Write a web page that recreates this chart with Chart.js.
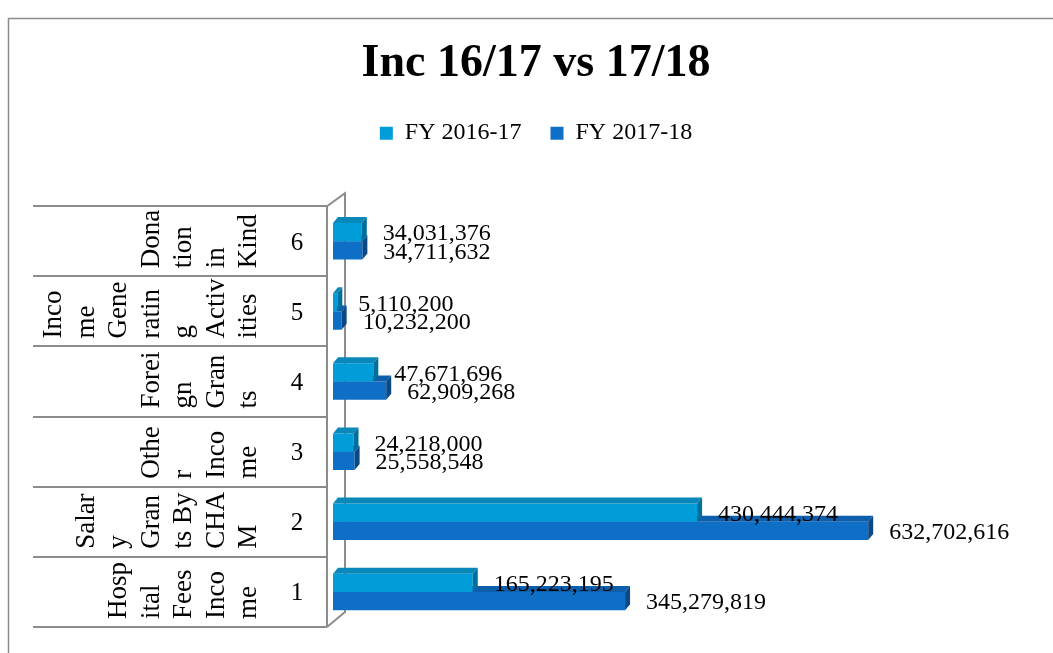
<!DOCTYPE html>
<html>
<head>
<meta charset="utf-8">
<script src="https://cdn.jsdelivr.net/npm/chart.js@4.4.0/dist/chart.umd.min.js"></script>
<style>
  html, body { margin: 0; padding: 0; background: #fff; }
</style>
</head>
<body>
<canvas id="myChart" width="1053" height="653"></canvas>
<script>
// categories, bottom row first
var categories = ['1', '2', '3', '4', '5', '6'];
// category names as Excel wrapped them in the table
var categoryLines = [
  ['Hosp', 'ital', 'Fees', 'Inco', 'me'],
  ['Salar', 'y', 'Gran', 'ts By', 'CHA', 'M'],
  ['Othe', 'r', 'Inco', 'me'],
  ['Forei', 'gn', 'Gran', 'ts'],
  ['Inco', 'me', 'Gene', 'ratin', 'g', 'Activ', 'ities'],
  ['Dona', 'tion', 'in', 'Kind']
];
var seriesNames = ['FY 2016-17', 'FY 2017-18'];
var fy1617 = [165223195, 430444374, 24218000, 47671696, 5110200, 34031376];
var fy1718 = [345279819, 632702616, 25558548, 62909268, 10232200, 34711632];

var serif = "'Liberation Serif', 'DejaVu Serif', serif";
var faces = [
  { top: '#0a88ba', side: '#00709b' },
  { top: '#0d5eab', side: '#0a4986' }
];
var dx = 5, dy = 6;

// extra room under the legend
var legendGap = {
  id: 'legendGap',
  beforeInit: function (chart) {
    var fit = chart.legend.fit;
    chart.legend.fit = function () {
      fit.bind(chart.legend)();
      this.height += 51;
    };
  }
};

// outer frame, left table and the 3d wall
var tablePlugin = {
  id: 'tablePlugin',
  beforeDatasetsDraw: function (chart) {
    var ctx = chart.ctx;
    var y = chart.scales.y;
    var area = chart.chartArea;
    var rowH = Math.abs(y.getPixelForValue(1) - y.getPixelForValue(0));
    var axisX = area.left - 6;
    var backX = area.left + 12;

    ctx.save();
    ctx.strokeStyle = '#8c8c8c';
    ctx.lineWidth = 1.5;
    ctx.strokeRect(8.5, 18.5, 1100, 700);

    ctx.lineWidth = 2;
    ctx.beginPath();
    for (var i = 0; i <= categories.length; i++) {
      var ly = Math.round(area.top + i * rowH);
      ctx.moveTo(33, ly);
      ctx.lineTo(axisX, ly);
    }
    ctx.moveTo(axisX, area.top);
    ctx.lineTo(axisX, area.bottom);
    ctx.moveTo(axisX, area.top);
    ctx.lineTo(backX, area.top - 13);
    ctx.lineTo(backX, area.bottom - 15);
    ctx.lineTo(axisX, area.bottom);
    ctx.stroke();

    ctx.fillStyle = '#000';
    ctx.textBaseline = 'middle';
    categories.forEach(function (cat, i) {
      var cy = y.getPixelForValue(i);
      ctx.textAlign = 'center';
      ctx.font = '25px ' + serif;
      ctx.fillText(cat, 297, cy + 2);

      var lines = categoryLines[i];
      var bottom = cy + rowH / 2 - 8;
      ctx.font = '27px ' + serif;
      ctx.textAlign = 'left';
      lines.forEach(function (txt, k) {
        var lx = 249 - (lines.length - 1 - k) * 32.5;
        ctx.save();
        ctx.translate(lx, bottom);
        ctx.rotate(-Math.PI / 2);
        ctx.fillText(txt, 0, 0);
        ctx.restore();
      });
    });
    ctx.restore();
  },
  // top and side faces of each bar
  afterDatasetDraw: function (chart, args) {
    var ctx = chart.ctx;
    var c = faces[args.index];
    ctx.save();
    args.meta.data.forEach(function (bar) {
      var p = bar.getProps(['x', 'y', 'base', 'height'], true);
      var top = p.y - p.height / 2;
      var bottom = p.y + p.height / 2;
      ctx.fillStyle = c.top;
      ctx.beginPath();
      ctx.moveTo(p.base, top);
      ctx.lineTo(p.x, top);
      ctx.lineTo(p.x + dx, top - dy);
      ctx.lineTo(p.base + dx, top - dy);
      ctx.closePath();
      ctx.fill();
      ctx.fillStyle = c.side;
      ctx.beginPath();
      ctx.moveTo(p.x, top);
      ctx.lineTo(p.x + dx, top - dy);
      ctx.lineTo(p.x + dx, bottom - dy);
      ctx.lineTo(p.x, bottom);
      ctx.closePath();
      ctx.fill();
    });
    ctx.restore();
  },
  afterDraw: function (chart) {
    var ctx = chart.ctx;
    ctx.save();
    ctx.fillStyle = '#000';
    ctx.font = '24px ' + serif;
    ctx.textAlign = 'left';
    ctx.textBaseline = 'middle';
    chart.data.datasets.forEach(function (ds, i) {
      chart.getDatasetMeta(i).data.forEach(function (bar, j) {
        ctx.fillText(ds.data[j].toLocaleString('en-US'), bar.x + 21, bar.y + 2);
      });
    });
    ctx.restore();
  }
};

var ctx = document.getElementById('myChart').getContext('2d');
var myChart = new Chart(ctx, {
  type: 'bar',
  data: {
    labels: categories,
    datasets: [{
      label: seriesNames[0],
      data: fy1617,
      backgroundColor: '#009DD9',
      categoryPercentage: 0.52,
      barPercentage: 1
    }, {
      label: seriesNames[1],
      data: fy1718,
      backgroundColor: '#0F6FC6',
      categoryPercentage: 0.52,
      barPercentage: 1
    }]
  },
  plugins: [legendGap, tablePlugin],
  options: {
    indexAxis: 'y',
    responsive: false,
    animation: false,
    layout: { padding: { top: 20, left: 20, right: 1, bottom: 26 } },
    plugins: {
      title: {
        display: true,
        text: 'Inc 16/17 vs 17/18',
        color: '#000',
        font: { family: serif, size: 46, weight: 'bold' },
        padding: { top: 17, bottom: 0 }
      },
      legend: {
        labels: {
          color: '#000',
          font: { family: serif, size: 24 },
          boxWidth: 13,
          boxHeight: 13,
          padding: 29
        }
      },
      tooltip: { enabled: false }
    },
    scales: {
      x: {
        display: false,
        min: 0,
        max: 850000000
      },
      y: {
        reverse: true,
        grid: { display: false },
        border: { display: false },
        ticks: { display: false },
        afterFit: function (scale) { scale.width = 313; }
      }
    }
  }
});
</script>
</body>
</html>
